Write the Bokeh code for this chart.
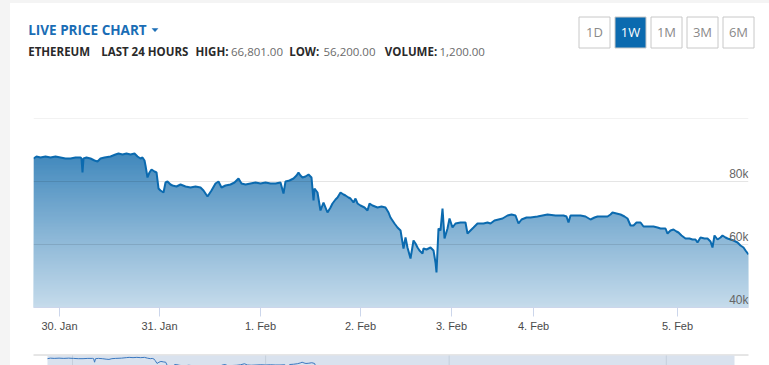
import numpy as np
from bokeh.plotting import figure
from bokeh.models import Range1d, FixedTicker, Spacer
from bokeh.layouts import row, column
from bokeh.core.properties import value
from bokeh.embed import file_html
from bokeh.resources import INLINE

# ---------------- data ----------------
title_text = "LIVE PRICE CHART"
asset_name = "ETHEREUM"
period_name = "LAST 24 HOURS"
stat_names = ["HIGH:", "LOW:", "VOLUME:"]
stat_values = ["66,801.00", "56,200.00", "1,200.00"]
range_buttons = ["1D", "1W", "1M", "3M", "6M"]
active_button = "1W"

# ordinal hours from the start of the window
hours = [0.00, 0.70, 1.64, 2.81, 3.98, 5.15, 6.32, 7.49, 8.66, 9.83, 11.00, 11.24, 11.47, 11.71,
         12.41, 13.35, 14.28, 14.98, 15.69, 16.62, 18.03, 19.20, 19.90, 20.84, 21.77, 22.71,
         23.65, 24.35, 25.05, 25.52, 25.99, 26.22, 26.69, 27.16, 27.63, 28.33, 28.80, 29.27,
         29.73, 30.44, 30.91, 31.37, 32.08, 32.54, 33.48, 34.42, 35.59, 36.76, 37.93, 39.10,
         39.80, 40.74, 41.67, 42.61, 43.31, 44.02, 44.95, 46.12, 47.06, 48.00, 48.70, 49.64,
         50.81, 51.98, 53.15, 54.32, 55.49, 56.66, 57.83, 58.53, 59.00, 59.94, 60.87, 61.58,
         62.04, 62.51, 62.98, 63.68, 64.39, 65.09, 65.56, 65.79, 66.49, 67.19, 67.90, 68.83,
         69.54, 70.00, 70.71, 71.18, 71.88, 72.58, 73.05, 73.75, 74.22, 74.92, 75.39, 75.86,
         76.56, 77.50, 78.20, 78.67, 79.37, 80.54, 81.48, 82.41, 83.12, 83.58, 84.52, 85.22,
         85.93, 86.63, 87.10, 87.56, 88.27, 88.97, 89.44, 89.91, 90.37, 91.08, 91.31, 92.01,
         92.95, 93.65, 94.12, 94.35, 94.82, 95.29, 95.76, 96.23, 96.93, 97.40, 98.10, 98.80,
         99.97, 101.14, 101.61, 102.31, 103.02, 103.95, 105.36, 106.29, 107.00, 107.93, 108.87,
         109.81, 110.98, 111.92, 112.85, 113.55, 114.26, 115.43, 116.36, 118.00, 120.34, 122.22,
         124.09, 124.79, 125.26, 125.73, 126.90, 128.07, 129.24, 130.41, 131.35, 132.05, 133.22,
         134.39, 135.09, 135.56, 136.50, 137.44, 138.37, 139.07, 139.78, 140.48, 141.18, 142.12,
         142.82, 143.99, 145.16, 146.10, 146.80, 147.97, 148.44, 149.14, 149.84, 150.55, 151.01,
         151.72, 152.65, 153.59, 154.29, 154.99, 155.46, 156.16, 157.10, 157.80, 158.51, 158.97,
         159.44, 160.14, 160.85, 161.31, 162.02, 162.49, 163.19, 163.89, 164.83, 165.53, 166.23,
         166.70, 167.40]

prices = [87300, 87940, 87620, 87940, 87620, 87940, 87620, 87300, 87300, 87620, 87620, 87300, 82860, 87300,
          87620, 87300, 86670, 86350, 87300, 87620, 87940, 88570, 88890, 88570, 88890, 88570,
          88890, 87940, 87300, 87620, 86670, 85080, 81270, 82860, 83810, 83170, 82860, 77780,
          77140, 76510, 79680, 80000, 79050, 78730, 78410, 79050, 78410, 78100, 78410, 78100,
          77140, 75240, 77140, 79370, 80000, 78100, 78730, 79050, 79680, 80950, 79370, 79050,
          79370, 79680, 79370, 79680, 79370, 79370, 79680, 76190, 80000, 80320, 80950, 81900,
          82860, 81900, 81270, 81590, 82220, 81270, 73970, 77780, 76510, 70790, 73330, 70160,
          71750, 73020, 74290, 74920, 76510, 75870, 75560, 74920, 74600, 73330, 74600, 73020,
          72380, 71750, 70790, 73020, 72380, 71750, 72060, 71750, 70160, 68570, 66670, 65400,
          64440, 58730, 62220, 59050, 55560, 61270, 60320, 59050, 58100, 57140, 58730, 58410,
          59050, 58100, 54290, 51110, 65080, 64440, 71430, 61900, 65080, 68250, 65400, 66670,
          66980, 66980, 63490, 64440, 65400, 66670, 66670, 66980, 66670, 67620, 67940,
          68250, 69210, 69520, 69210, 66670, 67940, 68570, 68570, 68890, 69520, 69210,
          69210, 68890, 66980, 69210, 69210, 69210, 68890, 67940, 68570, 68890, 68890,
          68890, 69520, 70160, 69840, 69520, 68890, 68250, 66030, 66030, 66980, 66980,
          65710, 65710, 65710, 65400, 65080, 65080, 63490, 64440, 64760, 64130, 63810,
          62860, 61900, 61900, 61590, 61590, 60630, 62220, 61900, 61900, 60950, 59050,
          62860, 61590, 62220, 62860, 62220, 61900, 61590, 61270, 60630, 59680, 59050,
          58100, 56830]

tick_hours = [6.09, 29.5, 53.15, 76.56, 97.87, 117.07, 150.78]
tick_labels = ["30. Jan", "31. Jan", "1. Feb", "2. Feb", "3. Feb", "4. Feb", "5. Feb"]
y_label_values = [40000, 60000, 80000]
y_labels = ["40k", "60k", "80k"]
grid_values = [60000, 80000, 100000]

# ---------------- styling constants ----------------
BG = "#f4f4f4"
BLUE = "#0b6aaf"
FILL = "#1e73b1"
X0, X1 = 0.0, 167.4
Y0, Y1 = 40000, 100000
FONT = "Open Sans"


def bare(p):
    p.xgrid.visible = False
    p.ygrid.visible = False
    p.outline_line_color = None
    p.background_fill_color = "white"
    p.border_fill_color = "white"
    p.frame_align = False


# ---------------- header ----------------
hdr = figure(width=759, height=67, x_range=Range1d(10, 769), y_range=Range1d(70, 3),
             output_backend="svg", toolbar_location=None, min_border=0,
             x_axis_location=None, y_axis_location=None)
bare(hdr)
hdr.text(x=[27.7], y=[29.8], text=[title_text], text_font=value(FONT), text_font_style="bold",
         text_font_size="13.5px", text_color="#1a6db5", text_baseline="middle")
hdr.patch(x=[151.6, 157.4, 154.5], y=[28.0, 28.0, 31.2], fill_color="#1a6db5", line_color="#1a6db5",
          line_width=0.5)

line2_bold = [asset_name, period_name] + stat_names
line2_bold_x = [27.7, 100.7, 195.0, 288.7, 384.3]
hdr.text(x=line2_bold_x, y=[51.3] * 5, text=line2_bold, text_font=value(FONT),
         text_font_style="bold", text_font_size="11.5px", text_color="#2a2a2a",
         text_baseline="middle")
hdr.text(x=[230.5, 323.0, 439.0], y=[51.3] * 3, text=stat_values, text_font=value(FONT),
         text_font_size="11.5px", text_color="#6a6a6a", text_baseline="middle")

btn_left = [578.5 + 36 * i for i in range(len(range_buttons))]
btn_fill = [BLUE if b == active_button else "white" for b in range_buttons]
btn_txt = ["white" if b == active_button else "#8a8a8a" for b in range_buttons]
hdr.quad(left=btn_left, right=[l + 31 for l in btn_left], top=[16.5] * 5, bottom=[47.5] * 5,
         fill_color=btn_fill, line_color="#c8c8c8", line_width=1)
hdr.text(x=[l + 15.5 for l in btn_left], y=[31.5] * 5, text=range_buttons, text_font=value(FONT),
         text_font_size="13px", text_color=btn_txt, text_align="center", text_baseline="middle")

# ---------------- main chart ----------------
p = figure(width=759, height=282, x_range=Range1d(X0, X1), y_range=Range1d(Y0, Y1),
           output_backend="svg", toolbar_location=None, y_axis_location=None,
           min_border_left=23, min_border_right=21, min_border_top=48, min_border_bottom=45)
bare(p)

p.varea(x=hours, y1=[Y0] * len(hours), y2=prices, fill_color=FILL, fill_alpha=1.0)
nb = 189
edges = np.linspace(Y0, Y1, nb + 1)
mid_t = (0.5 * (edges[:-1] + edges[1:]) - Y0) / (Y1 - Y0)
p.quad(left=X0, right=X1, bottom=edges[:-1], top=edges[1:], fill_color="white",
       fill_alpha=1.0 - mid_t ** 0.85, line_color=None)

p.hspan(y=grid_values, line_color="black", line_alpha=0.1, line_width=1)
p.line(hours, prices, line_color=BLUE, line_width=2)

p.text(x=[X1] * 3, y=y_label_values, text=y_labels, text_align="right", text_baseline="bottom",
       y_offset=-1, text_font=value("Liberation Sans"), text_font_size="12px", text_color="#666666")

p.xaxis.ticker = FixedTicker(ticks=tick_hours)
p.xaxis.major_label_overrides = {t: l for t, l in zip(tick_hours, tick_labels)}
p.xaxis.axis_line_color = "#ccd6eb"
p.xaxis.major_tick_line_color = "#ccd6eb"
p.xaxis.major_tick_out = 9
p.xaxis.major_tick_in = 0
p.xaxis.minor_tick_line_color = None
p.xaxis.major_label_text_font = "Liberation Sans"
p.xaxis.major_label_text_font_size = "11px"
p.xaxis.major_label_text_color = "#4a4a4a"
p.xaxis.major_label_standoff = 3

# ---------------- navigator ----------------
NAV_PX_PER_H = 687 / (X1 - X0)
nav_x0 = X0 - 37 / NAV_PX_PER_H
nav_x1 = X1 + 35 / NAV_PX_PER_H
NY0, NY1 = 78750, 95000
ny_px = (NY1 - NY0) / 13
nav = figure(width=759, height=13, x_range=Range1d(nav_x0, nav_x1), y_range=Range1d(NY0, NY1),
             output_backend="svg", toolbar_location=None, min_border=0,
             x_axis_location=None, y_axis_location=None)
bare(nav)
nav.segment(x0=[X0 - 14 / NAV_PX_PER_H], x1=[X0 + 701 / NAV_PX_PER_H],
            y0=[NY1 - 2.5 * ny_px], y1=[NY1 - 2.5 * ny_px], line_color="#cccccc", line_width=1)
nav.quad(left=[X0], right=[X1], top=[NY1 - 3 * ny_px], bottom=[NY0], fill_color="#d9e2ee",
         line_color=None)
nav.segment(x0=tick_hours[::2], x1=tick_hours[::2], y0=[NY0] * 4, y1=[NY1 - 3 * ny_px] * 4,
            line_color="#c5cfdc", line_width=1)
nav.line(hours, prices, line_color="#3a78c0", line_width=1)

layout = row(Spacer(width=10, height=365, styles={"background-color": BG}),
             column(Spacer(width=759, height=3, styles={"background-color": BG}), hdr, p, nav))

open("out.html", "w").write(file_html(layout, INLINE))
